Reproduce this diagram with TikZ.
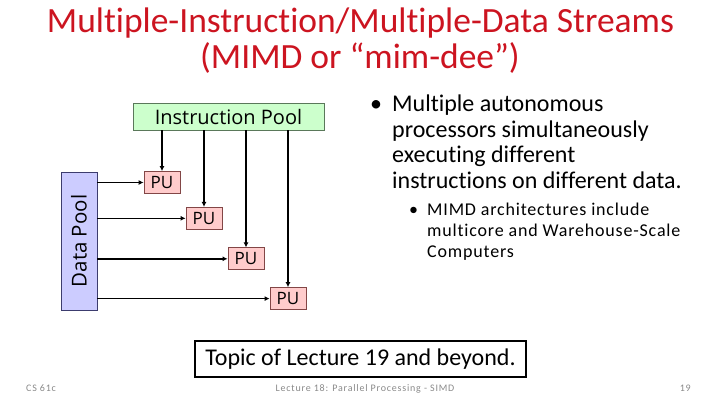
\documentclass[tikz,border=0pt]{standalone}
\usepackage{fontspec}
\setmainfont{Carlito}[Ligatures=NoCommon]
\newfontfamily\diagfont{Open Sans}
\usetikzlibrary{arrows.meta}
\definecolor{titlered}{RGB}{204,20,32}
\definecolor{igreen}{RGB}{204,255,204}
\definecolor{igreenb}{RGB}{90,120,90}
\definecolor{dblue}{RGB}{204,204,255}
\definecolor{dblueb}{RGB}{60,60,110}
\definecolor{pupink}{RGB}{255,204,204}
\definecolor{pupinkb}{RGB}{130,70,70}
\definecolor{footgray}{RGB}{137,137,137}
\tikzset{
  pubox/.style={draw=pupinkb, fill=pupink, line width=0.8pt, minimum width=36pt, minimum height=22pt, inner sep=0pt, font=\diagfont\fontsize{17}{17}\selectfont},
  flow/.style={line width=1.4pt, -{Latex[length=5pt,width=5pt]}},
  titletext/.style={text=titlered, font=\fontsize{35.5}{35.5}\selectfont, anchor=base, inner sep=0pt},
  mainbul/.style={anchor=base west, inner sep=0pt, font=\fontsize{24}{24}\selectfont},
  subbul/.style={anchor=base west, inner sep=0pt, font=\fontsize{18}{18}\selectfont\addfontfeature{LetterSpace=4.5}},
  foot/.style={text=footgray, font=\fontsize{10}{10}\selectfont\addfontfeature{LetterSpace=8}, anchor=base, inner sep=0pt}
}
\begin{document}
\begin{tikzpicture}[x=1pt,y=-1pt]
\useasboundingbox (0,0) rectangle (720,405);
% title
\node[titletext] (t1) at (360.5,32) {Multiple-Instruction/Multiple-Data Streams};
\node[titletext] (t2) at (360,68.5) {(MIMD or “mim-dee”)};
% diagram
\node[draw=igreenb, fill=igreen, line width=0.8pt, minimum width=191pt, minimum height=27pt, inner sep=0pt, font=\diagfont\fontsize{20}{20}\selectfont] (ipool) at (228.5,116.5) {Instruction Pool};
\node[draw=dblueb, fill=dblue, line width=0.8pt, minimum width=138pt, minimum height=36pt, inner sep=0pt, rotate=90, font=\diagfont\fontsize{20.5}{20.5}\selectfont] (dpool) at (79,241) {Data Pool};
\node[pubox] (pu1) at (162,182.5) {PU};
\node[pubox] (pu2) at (204,218.3) {PU};
\node[pubox] (pu3) at (246,258.8) {PU};
\node[pubox] (pu4) at (288,298.6) {PU};
\foreach \p in {pu1,pu2,pu3,pu4}{
  \draw[flow] (ipool.south -| \p.north) -- (\p.north);
  \draw[flow] (dpool.south |- \p.west) -- (\p.west);
}
% bullets
\node[mainbul] (b1) at (370,111.5) {•};
\node[mainbul] (b1t) at (392,111.5) {Multiple autonomous};
\node[mainbul] (b1l2) at (392,137) {processors simultaneously};
\node[mainbul] (b1l3) at (392,162.7) {executing different};
\node[mainbul] (b1l4) at (392,188.3) {instructions on different data.};
\node[subbul] (b2) at (409,215) {•};
\node[subbul] (b2t) at (427,215) {MIMD architectures include};
\node[subbul] (b2l2) at (427,236) {multicore and Warehouse-Scale};
\node[subbul] (b2l3) at (427,257) {Computers};
% topic box
\node[draw=black, line width=2.6pt, minimum width=331pt, minimum height=36pt, inner sep=0pt, font=\fontsize{24}{24}\selectfont] (topic) at (360.5,359) {Topic of Lecture 19 and beyond.};
% footer
\node[foot, anchor=base west] (f1) at (26,391) {CS 61c};
\node[foot] (f2) at (365,391) {Lecture 18: Parallel Processing - SIMD};
\node[foot, anchor=base east] (f3) at (691,391) {19};
\end{tikzpicture}
\end{document}
